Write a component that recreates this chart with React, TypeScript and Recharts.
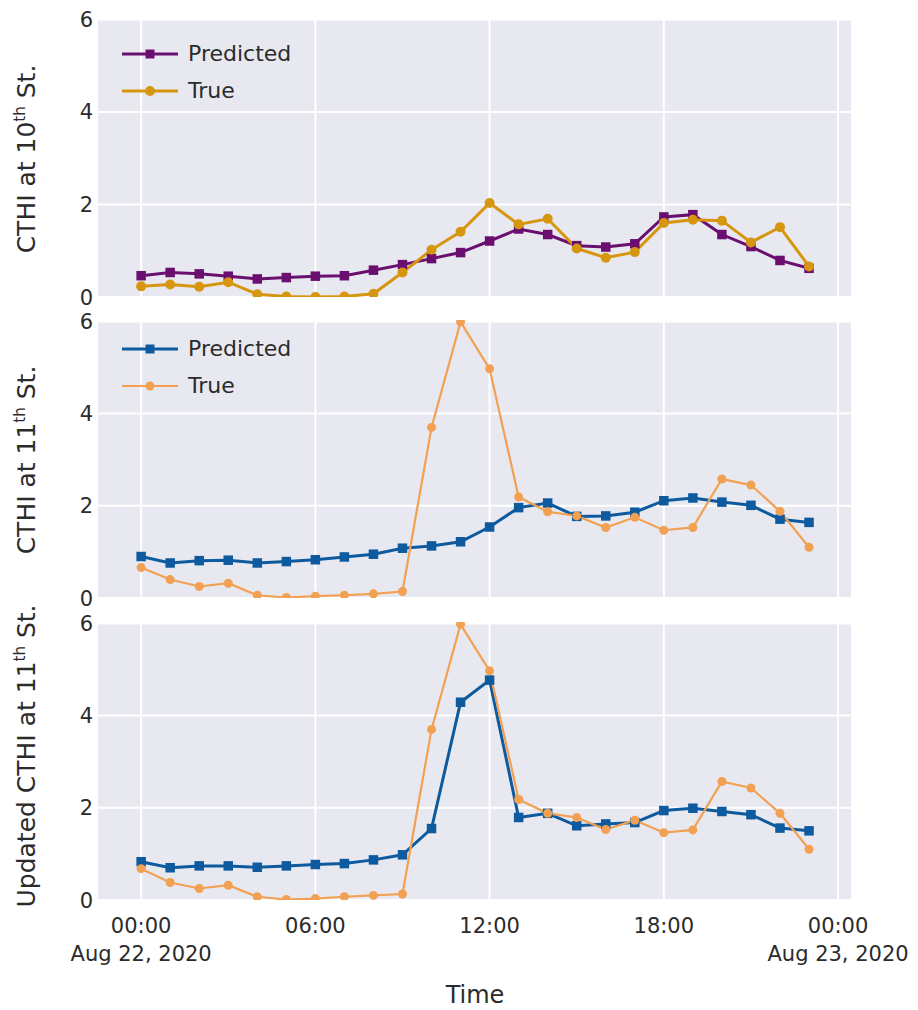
import React from 'react';
import { LineChart, Line, XAxis, YAxis, CartesianGrid } from 'recharts';

const hours = [0,1,2,3,4,5,6,7,8,9,10,11,12,13,14,15,16,17,18,19,20,21,22,23];

const pred10 = [0.46,0.53,0.50,0.45,0.39,0.42,0.45,0.46,0.58,0.70,0.83,0.96,1.21,1.47,1.35,1.11,1.08,1.15,1.73,1.78,1.35,1.09,0.79,0.62];
const true10 = [0.23,0.27,0.22,0.32,0.06,0.01,0.00,0.01,0.07,0.53,1.02,1.41,2.03,1.57,1.69,1.05,0.85,0.97,1.60,1.67,1.65,1.18,1.51,0.66];

const pred11 = [0.90,0.76,0.81,0.82,0.76,0.79,0.83,0.89,0.95,1.08,1.13,1.22,1.54,1.96,2.06,1.77,1.78,1.86,2.11,2.17,2.08,2.01,1.71,1.64];
const true11 = [0.66,0.40,0.25,0.32,0.06,0.01,0.04,0.06,0.09,0.14,3.70,5.99,4.97,2.19,1.87,1.78,1.53,1.75,1.47,1.53,2.58,2.45,1.88,1.10];

const predUpd = [0.83,0.70,0.74,0.74,0.71,0.74,0.77,0.79,0.87,0.98,1.55,4.29,4.77,1.79,1.88,1.61,1.65,1.68,1.94,1.99,1.92,1.85,1.56,1.50];
const trueUpd = [0.68,0.38,0.25,0.32,0.07,0.01,0.03,0.07,0.10,0.13,3.70,5.98,4.97,2.18,1.88,1.79,1.53,1.73,1.46,1.52,2.57,2.43,1.88,1.10];

const xTicks = [0, 6, 12, 18, 24];
const xTickLabels = ['00:00', '06:00', '12:00', '18:00', '00:00'];
const xDateLabels: Record<number, string> = { 0: 'Aug 22, 2020', 24: 'Aug 23, 2020' };
const yTicks = [0, 2, 4, 6];
const legendLabels = ['Predicted', 'True'];

const FONT = '"DejaVu Sans", Verdana, sans-serif';
const BG = '#e8e9f0';
const TEXT = '#2b2b2b';

const mk = (p: number[], t: number[]) => hours.map((h, i) => ({ hour: h, pred: p[i], truth: t[i] }));
const data10 = mk(pred10, true10);
const data11 = mk(pred11, true11);
const dataUpd = mk(predUpd, trueUpd);

const SquareDot = (color: string, s: number) => (props: any) => {
  const { cx, cy, index } = props;
  if (cx == null || cy == null) return <g key={`s${index}`} />;
  return <rect key={`s${index}`} x={cx - s / 2} y={cy - s / 2} width={s} height={s} fill={color} />;
};
const CircleDot = (color: string, r: number) => (props: any) => {
  const { cx, cy, index } = props;
  if (cx == null || cy == null) return <g key={`c${index}`} />;
  return <circle key={`c${index}`} cx={cx} cy={cy} r={r} fill={color} />;
};

const YLabel = (parts: { main1: string; sup: string; main2: string }, cy: number) => () => (
  <text x={35} y={cy} transform={`rotate(-90, 35, ${cy})`} textAnchor="middle"
    fontFamily={FONT} fontSize={25} fill={TEXT}>
    {parts.main1}
    <tspan fontSize={15} dy={-10}>{parts.sup}</tspan>
    <tspan dy={10}>{parts.main2}</tspan>
  </text>
);

const LegendOverlay = ({ top, predColor, trueColor, predW, trueW, trueR }: any) => (
  <div style={{ position: 'absolute', left: 122, top, fontFamily: FONT, fontSize: 22, color: TEXT }}>
    {[{ c: predColor, w: predW, sq: true, t: legendLabels[0] }, { c: trueColor, w: trueW, sq: false, t: legendLabels[1] }].map((r) => (
      <div key={r.t} style={{ display: 'flex', alignItems: 'center', height: 36.5 }}>
        <svg width={56} height={20} style={{ marginRight: 10, flex: 'none' }}>
          <line x1={0} y1={10} x2={56} y2={10} stroke={r.c} strokeWidth={r.w} />
          {r.sq ? <rect x={23.5} y={5.5} width={9} height={9} fill={r.c} /> : <circle cx={28} cy={10} r={trueR} fill={r.c} />}
        </svg>
        <span style={{ lineHeight: '22px' }}>{r.t}</span>
      </div>
    ))}
  </div>
);

const EmptyTick = () => <g />;

const BottomTick = (props: any) => {
  const { x, y, payload } = props;
  const v = payload.value;
  const idx = xTicks.indexOf(v);
  return (
    <g>
      <text x={x} y={y + 25} textAnchor="middle" fontFamily={FONT} fontSize={21} fill={TEXT}>{xTickLabels[idx]}</text>
      {xDateLabels[v] ? (
        <text x={x} y={y + 53} textAnchor="middle" fontFamily={FONT} fontSize={21} fill={TEXT}>{xDateLabels[v]}</text>
      ) : null}
    </g>
  );
};

const YTick = (props: any) => {
  const { y, payload } = props;
  return (
    <text x={93} y={y + 7.5} textAnchor="end" fontFamily={FONT} fontSize={21} fill={TEXT}>
      {payload.value}
    </text>
  );
};

interface PanelProps {
  data: any[];
  top: number;
  height: number;
  margin: { top: number; right: number; left: number; bottom: number };
  predColor: string;
  trueColor: string;
  predW: number;
  trueW: number;
  trueR: number;
  label: { main1: string; sup: string; main2: string };
  labelY: number;
  bottom: boolean;
}

const Panel = (p: PanelProps) => (
  <div style={{ position: 'absolute', left: 0, top: p.top }}>
    <LineChart width={918} height={p.height} data={p.data} margin={p.margin}>
      <CartesianGrid stroke="#ffffff" strokeWidth={2} fill={BG} fillOpacity={1} />
      <XAxis
        dataKey="hour"
        type="number"
        domain={[-1.52, 24.48]}
        ticks={xTicks}
        allowDataOverflow
        axisLine={false}
        tickLine={false}
        height={p.bottom ? 60 : 1}
        tick={p.bottom ? <BottomTick /> : <EmptyTick />}
        interval={0}
      />
      <YAxis
        type="number"
        domain={[0, 6.03]}
        ticks={yTicks}
        allowDataOverflow
        axisLine={false}
        tickLine={false}
        width={97}
        tick={<YTick />}
        label={YLabel(p.label, p.labelY) as any}
      />
      <Line dataKey="pred" name="Predicted" stroke={p.predColor} strokeWidth={p.predW} isAnimationActive={false}
        dot={SquareDot(p.predColor, 9.5) as any} activeDot={false} />
      <Line dataKey="truth" name="True" stroke={p.trueColor} strokeWidth={p.trueW} isAnimationActive={false}
        dot={CircleDot(p.trueColor, p.trueR) as any} activeDot={false} />
    </LineChart>
  </div>
);

export default function App() {
  return (
    <div style={{ position: 'absolute', left: 0, top: 0, width: 918, height: 1010, background: '#ffffff', overflow: 'hidden' }}>
      <Panel data={data10} top={0} height={320} margin={{ top: 18, right: 66, left: 0, bottom: 22 }}
        predColor="#6a0e70" trueColor="#d7960f" predW={3} trueW={3} trueR={5}
        label={{ main1: 'CTHI at 10', sup: 'th', main2: ' St.' }} labelY={159} bottom={false} />
      <Panel data={data11} top={300} height={320} margin={{ top: 20, right: 66, left: 0, bottom: 21 }}
        predColor="#0d5a9e" trueColor="#f2a052" predW={3} trueW={2.2} trueR={4.5}
        label={{ main1: 'CTHI at 11', sup: 'th', main2: ' St.' }} labelY={160} bottom={false} />
      <Panel data={dataUpd} top={600} height={410} margin={{ top: 22, right: 66, left: 0, bottom: 50 }}
        predColor="#0d5a9e" trueColor="#f2a052" predW={3} trueW={2.2} trueR={4.5}
        label={{ main1: 'Updated CTHI at 11', sup: 'th', main2: ' St.' }} labelY={156} bottom />
      <LegendOverlay top={36} predColor="#6a0e70" trueColor="#d7960f" predW={3} trueW={3} trueR={5} />
      <LegendOverlay top={331} predColor="#0d5a9e" trueColor="#f2a052" predW={3} trueW={2.2} trueR={4.5} />
      <svg style={{ position: 'absolute', left: 0, top: 965 }} width={918} height={45}>
        <text x={475} y={38} textAnchor="middle" fontFamily={FONT} fontSize={24} fill={TEXT}>Time</text>
      </svg>
    </div>
  );
}
